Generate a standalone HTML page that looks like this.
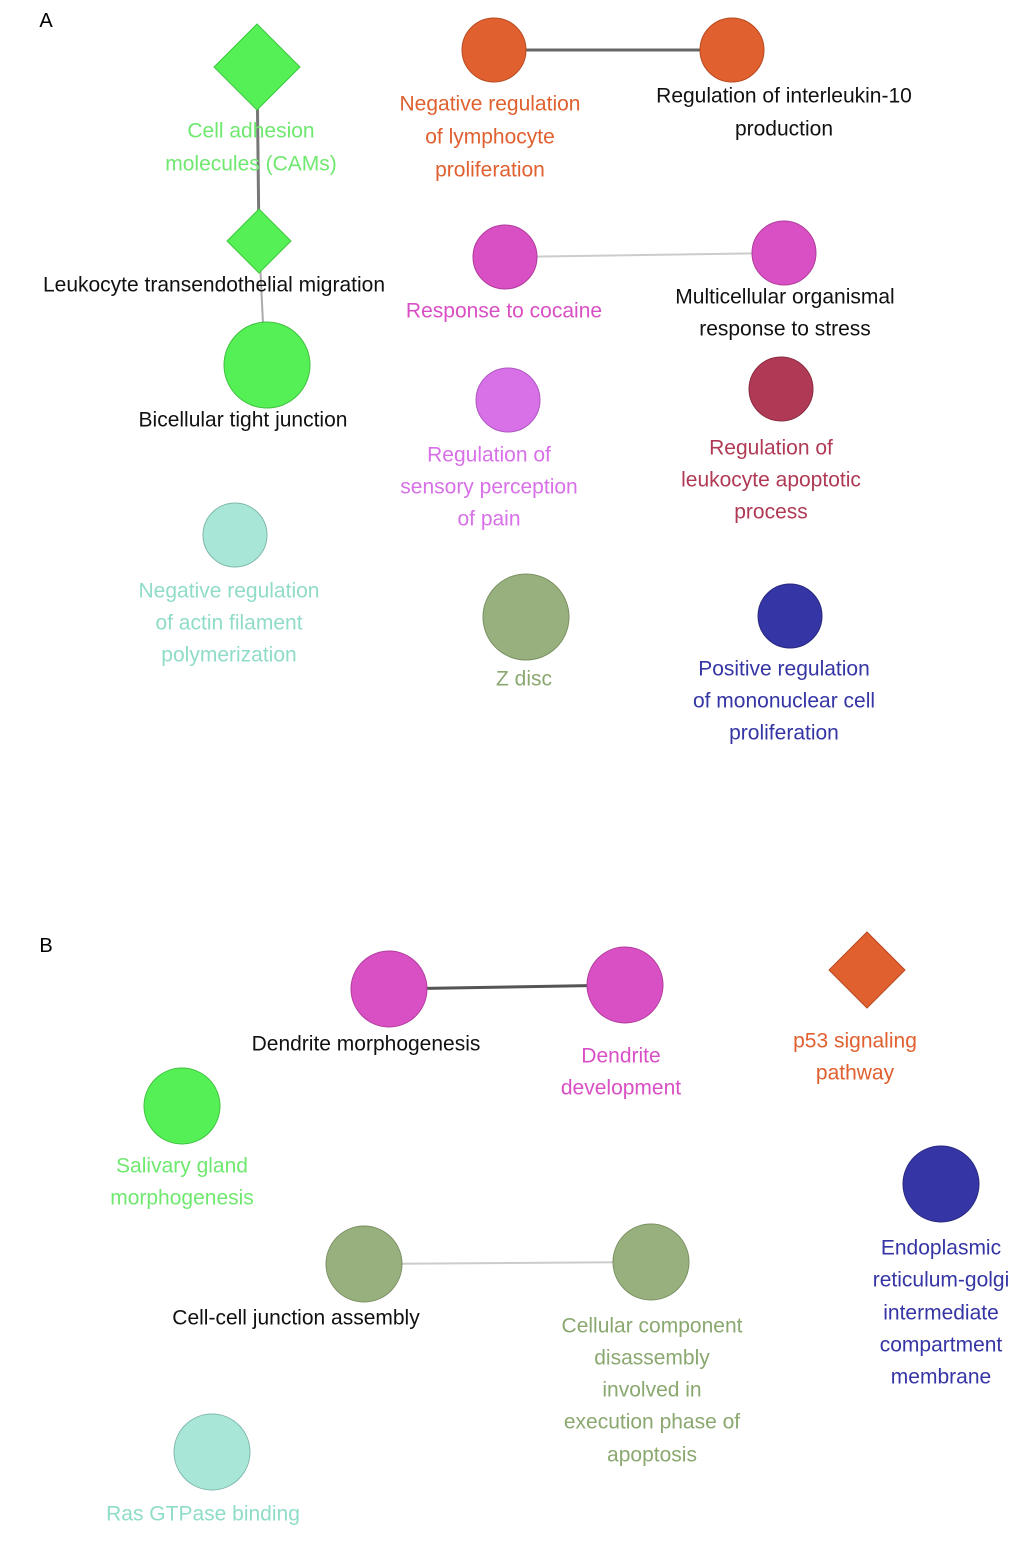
<!DOCTYPE html>
<html><head><meta charset="utf-8"><style>
html,body{margin:0;padding:0;background:#fff;}
svg text{font-family:"Liberation Sans",sans-serif;font-size:21px;text-anchor:middle;dominant-baseline:central;}
</style></head><body>
<svg width="1034" height="1539" viewBox="0 0 1034 1539" xmlns="http://www.w3.org/2000/svg">
<text x="46" y="21" style="font-size:20px">A</text>
<text x="46" y="946" style="font-size:20px">B</text>
<!-- A edges -->
<line x1="257" y1="67" x2="259" y2="241" stroke="#777" stroke-width="3"/>
<line x1="259" y1="241" x2="265" y2="365" stroke="#aaa" stroke-width="2"/>
<line x1="494" y1="50" x2="732" y2="50" stroke="#666" stroke-width="3"/>
<line x1="505" y1="257" x2="784" y2="253" stroke="#ccc" stroke-width="2"/>
<!-- A nodes -->
<polygon points="257,24 300,67 257,110 214,67" fill="#55f055" stroke="#40c840"/>
<polygon points="259,209 291,241 259,273 227,241" fill="#55f055" stroke="#40c840"/>
<circle cx="267" cy="365" r="43" fill="#55f055" stroke="#40c040"/>
<circle cx="494" cy="50" r="32" fill="#e0602f" stroke="#b84a20"/>
<circle cx="732" cy="50" r="32" fill="#e0602f" stroke="#b84a20"/>
<circle cx="505" cy="257" r="32" fill="#d94fc4" stroke="#b03c9c"/>
<circle cx="784" cy="253" r="32" fill="#d94fc4" stroke="#b03c9c"/>
<circle cx="508" cy="400" r="32" fill="#d870e8" stroke="#b058c0"/>
<circle cx="781" cy="389" r="32" fill="#b03a55" stroke="#8a2c42"/>
<circle cx="235" cy="535" r="32" fill="#a8e6d8" stroke="#80b8aa"/>
<circle cx="526" cy="617" r="43" fill="#98b07e" stroke="#7a9062"/>
<circle cx="790" cy="616" r="32" fill="#3535a5" stroke="#28287e"/>
<!-- A labels -->
<g fill="#6fe86f"><text x="251" y="131">Cell adhesion</text><text x="251" y="164">molecules (CAMs)</text></g>
<g fill="#111"><text x="214" y="285">Leukocyte transendothelial migration</text><text x="243" y="420">Bicellular tight junction</text>
<text x="784" y="96">Regulation of interleukin-10</text><text x="784" y="129">production</text>
<text x="785" y="297">Multicellular organismal</text><text x="785" y="329">response to stress</text></g>
<g fill="#e0602f"><text x="490" y="104">Negative regulation</text><text x="490" y="137">of lymphocyte</text><text x="490" y="170">proliferation</text></g>
<text x="504" y="311" fill="#d94fc4">Response to cocaine</text>
<g fill="#d870e8"><text x="489" y="455">Regulation of</text><text x="489" y="487">sensory perception</text><text x="489" y="519">of pain</text></g>
<g fill="#b03a55"><text x="771" y="448">Regulation of</text><text x="771" y="480">leukocyte apoptotic</text><text x="771" y="512">process</text></g>
<g fill="#8fdcc8"><text x="229" y="591">Negative regulation</text><text x="229" y="623">of actin filament</text><text x="229" y="655">polymerization</text></g>
<text x="524" y="679" fill="#8aa870">Z disc</text>
<g fill="#3535a5"><text x="784" y="669">Positive regulation</text><text x="784" y="701">of mononuclear cell</text><text x="784" y="733">proliferation</text></g>
<!-- B edges -->
<line x1="389" y1="989" x2="625" y2="985" stroke="#555" stroke-width="3"/>
<line x1="364" y1="1264" x2="651" y2="1262" stroke="#ccc" stroke-width="2"/>
<!-- B nodes -->
<circle cx="389" cy="989" r="38" fill="#d94fc4" stroke="#b03c9c"/>
<circle cx="625" cy="985" r="38" fill="#d94fc4" stroke="#b03c9c"/>
<polygon points="867,932 905,970 867,1008 829,970" fill="#e0602f" stroke="#b84a20"/>
<circle cx="182" cy="1106" r="38" fill="#55f055" stroke="#40c040"/>
<circle cx="941" cy="1184" r="38" fill="#3535a5" stroke="#28287e"/>
<circle cx="364" cy="1264" r="38" fill="#98b07e" stroke="#7a9062"/>
<circle cx="651" cy="1262" r="38" fill="#98b07e" stroke="#7a9062"/>
<circle cx="212" cy="1452" r="38" fill="#a8e6d8" stroke="#80b8aa"/>
<!-- B labels -->
<g fill="#111"><text x="366" y="1044">Dendrite morphogenesis</text><text x="296" y="1318">Cell-cell junction assembly</text></g>
<g fill="#d94fc4"><text x="621" y="1056">Dendrite</text><text x="621" y="1088">development</text></g>
<g fill="#e0602f"><text x="855" y="1041">p53 signaling</text><text x="855" y="1073">pathway</text></g>
<g fill="#6fe86f"><text x="182" y="1166">Salivary gland</text><text x="182" y="1198">morphogenesis</text></g>
<g fill="#8aa870"><text x="652" y="1326">Cellular component</text><text x="652" y="1358">disassembly</text><text x="652" y="1390">involved in</text><text x="652" y="1422">execution phase of</text><text x="652" y="1455">apoptosis</text></g>
<g fill="#3535a5"><text x="941" y="1248">Endoplasmic</text><text x="941" y="1280">reticulum-golgi</text><text x="941" y="1313">intermediate</text><text x="941" y="1345">compartment</text><text x="941" y="1377">membrane</text></g>
<text x="203" y="1514" fill="#8fdcc8">Ras GTPase binding</text>
</svg>
</body></html>
